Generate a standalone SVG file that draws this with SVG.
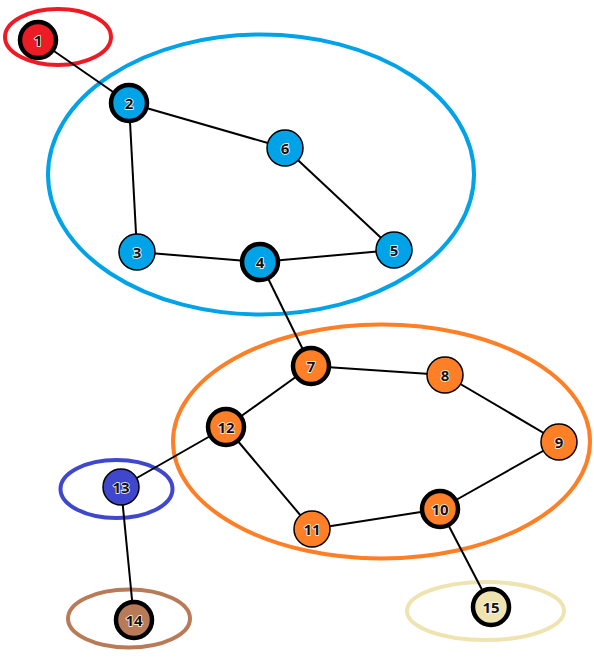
<svg xmlns="http://www.w3.org/2000/svg" width="594" height="658" viewBox="0 0 594 658">
<style>
.grp{fill:none;stroke-width:4}
.n{stroke:#000;stroke-width:1.5}
.t{stroke:#000;stroke-width:4.5}
.e{stroke:#000;stroke-width:2;fill:none}
text{font-family:"Open Sans","DejaVu Sans",sans-serif;font-weight:bold;font-size:15px;text-anchor:middle;dominant-baseline:central;fill:#111;stroke:#fff;stroke-width:1.5;paint-order:stroke}
.red{fill:#ed1c24}.blue{fill:#00a2e8}.orange{fill:#ff7f27}.purple{fill:#3f48cc}.brown{fill:#b97a57}.beige{fill:#efe4b0}
</style>
<rect width="594" height="658" fill="#fff"/>
<g id="groups">
<ellipse class="grp" cx="58" cy="37" rx="53" ry="28" stroke="#ed1c24"/>
<ellipse class="grp" cx="261" cy="174.5" rx="213" ry="140" stroke="#00a2e8"/>
<ellipse class="grp" cx="381.5" cy="441.5" rx="208.5" ry="117" stroke="#ff7f27"/>
<ellipse class="grp" cx="116.5" cy="489" rx="56" ry="29" stroke="#3f48cc"/>
<ellipse class="grp" cx="129" cy="618.5" rx="61" ry="29" stroke="#b97a57"/>
<ellipse class="grp" cx="485.5" cy="611" rx="78.5" ry="29" stroke="#efe4b0"/>
</g>
<g id="edges">
<line class="e" x1="38" y1="40" x2="129" y2="103"/>
<line class="e" x1="129" y1="103" x2="285" y2="148"/>
<line class="e" x1="129" y1="103" x2="137" y2="252"/>
<line class="e" x1="285" y1="148" x2="394" y2="250"/>
<line class="e" x1="137" y1="252" x2="260" y2="262"/>
<line class="e" x1="260" y1="262" x2="394" y2="250"/>
<line class="e" x1="260" y1="262" x2="311" y2="366"/>
<line class="e" x1="311" y1="366" x2="445" y2="375"/>
<line class="e" x1="445" y1="375" x2="559" y2="442"/>
<line class="e" x1="559" y1="442" x2="440" y2="509"/>
<line class="e" x1="440" y1="509" x2="312" y2="529"/>
<line class="e" x1="311" y1="366" x2="226" y2="427"/>
<line class="e" x1="226" y1="427" x2="312" y2="529"/>
<line class="e" x1="226" y1="427" x2="121" y2="487"/>
<line class="e" x1="121" y1="487" x2="134" y2="620"/>
<line class="e" x1="440" y1="509" x2="491" y2="607"/>
</g>
<g id="node1"><circle class="t red" cx="38" cy="40" r="18"/><text x="38" y="40">1</text></g>
<g id="node2"><circle class="t blue" cx="129" cy="103" r="18"/><text x="129" y="103">2</text></g>
<g id="node3"><circle class="n blue" cx="137" cy="252" r="18"/><text x="137" y="252">3</text></g>
<g id="node4"><circle class="t blue" cx="260" cy="262" r="18"/><text x="260" y="262">4</text></g>
<g id="node5"><circle class="n blue" cx="394" cy="250" r="18"/><text x="394" y="250">5</text></g>
<g id="node6"><circle class="n blue" cx="285" cy="148" r="18"/><text x="285" y="148">6</text></g>
<g id="node7"><circle class="t orange" cx="311" cy="366" r="18"/><text x="311" y="366">7</text></g>
<g id="node8"><circle class="n orange" cx="445" cy="375" r="18"/><text x="445" y="375">8</text></g>
<g id="node9"><circle class="n orange" cx="559" cy="442" r="18"/><text x="559" y="442">9</text></g>
<g id="node10"><circle class="t orange" cx="440" cy="509" r="18"/><text x="440" y="509">10</text></g>
<g id="node11"><circle class="n orange" cx="312" cy="529" r="18"/><text x="312" y="529">11</text></g>
<g id="node12"><circle class="t orange" cx="226" cy="427" r="18"/><text x="226" y="427">12</text></g>
<g id="node13"><circle class="n purple" cx="121" cy="487" r="18"/><text x="121" y="487">13</text></g>
<g id="node14"><circle class="t brown" cx="134" cy="620" r="18"/><text x="134" y="620">14</text></g>
<g id="node15"><circle class="t beige" cx="491" cy="607" r="18"/><text x="491" y="607">15</text></g>
</svg>
